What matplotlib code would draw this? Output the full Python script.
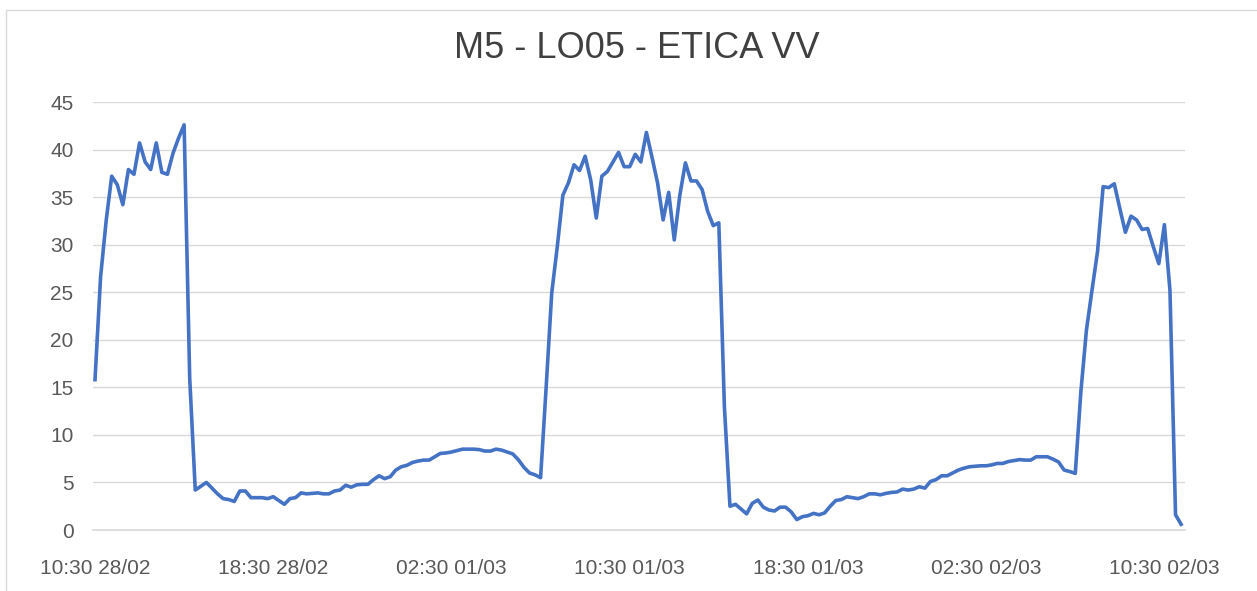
"""
M5 - LO05 - ETICA VV  : line chart, 15 min samples over two days.
"""

import matplotlib
matplotlib.use("Agg")
import matplotlib.pyplot as plt
from matplotlib.patches import Rectangle
import pandas as pd

TITLE = "M5 - LO05 - ETICA VV"
START = "2023-02-28 10:30"
STEP = "15min"

# readings, one every 15 minutes
day1_high = [15.8, 26.6, 32.5, 37.2, 36.3, 34.2, 37.9, 37.4, 40.7, 38.7,
             37.9, 40.7, 37.6, 37.4, 39.6, 41.2, 42.6, 16.0, 4.2]
night1 = [4.6, 5.0, 4.4, 3.8, 3.3, 3.2, 3.0, 4.1, 4.1, 3.4,
          3.4, 3.4, 3.3, 3.5, 3.1, 2.7, 3.3, 3.4, 3.9, 3.8,
          3.85, 3.9, 3.8, 3.8, 4.1, 4.2, 4.7, 4.5, 4.75, 4.8,
          4.8, 5.3, 5.7, 5.4, 5.6, 6.3, 6.65, 6.8, 7.1, 7.25,
          7.35, 7.35, 7.7, 8.05, 8.1, 8.2, 8.35, 8.5, 8.5, 8.5,
          8.45, 8.3, 8.3, 8.5, 8.4, 8.2, 8.0, 7.4, 6.6, 6.0,
          5.8, 5.5]
day2_high = [15.0, 24.9, 29.8, 35.2, 36.5, 38.4, 37.8, 39.3, 36.8, 32.8,
             37.2, 37.7, 38.7, 39.7, 38.2, 38.2, 39.5, 38.7, 41.8, 39.2,
             36.5, 32.6, 35.5, 30.5, 35.2, 38.6, 36.7, 36.7, 35.8, 33.5,
             32.0, 32.3]
night2 = [13.0, 2.5, 2.7, 2.2, 1.7, 2.8, 3.15, 2.4, 2.1, 2.0,
          2.4, 2.4, 1.9, 1.1, 1.4, 1.5, 1.75, 1.6, 1.8, 2.5,
          3.1, 3.2, 3.5, 3.4, 3.3, 3.5, 3.8, 3.8, 3.7, 3.85,
          3.95, 4.0, 4.3, 4.2, 4.3, 4.55, 4.4, 5.1, 5.3, 5.7,
          5.7, 6.0, 6.3, 6.5, 6.65, 6.7, 6.75, 6.75, 6.85, 7.0,
          7.0, 7.2, 7.3, 7.4, 7.35, 7.35, 7.7, 7.7, 7.7, 7.45,
          7.15, 6.3, 6.15, 5.95]
day3_high = [14.5, 21.0, 25.2, 29.3, 36.1, 36.0, 36.4, 33.8, 31.3, 33.0,
             32.6, 31.6, 31.7, 29.8, 28.0, 32.1, 25.2, 1.6, 0.6]

values = day1_high + night1 + day2_high + night2 + day3_high
times = pd.date_range(START, periods=len(values), freq=STEP)

y_ticks = [0, 5, 10, 15, 20, 25, 30, 35, 40, 45]

BLUE = "#4472C4"
GRID = "#d9d9d9"
TXT = "#595959"
FONT = ["Liberation Sans", "DejaVu Sans"]

fig = plt.figure(figsize=(12.57, 5.91), dpi=100)
fig.patch.set_facecolor("white")
ax = fig.add_axes([93 / 1257, 1 - 530 / 591, (1185 - 93) / 1257, (530 - 102) / 591])

ax.plot(times, values, color=BLUE, lw=2.6, solid_joinstyle="round", zorder=3)

# axes look
ax.set_ylim(0, 45)
ax.set_yticks(y_ticks)
step = times[1] - times[0]
ax.set_xlim(times[0] - step * 0.36, times[-1] + step * 0.7)
ticks = list(pd.date_range(START, times[-1], freq="8h"))
ax.set_xticks(ticks)
ax.set_xticklabels([t.strftime("%H:%M %d/%m") for t in ticks])

ax.grid(axis="y", color=GRID, lw=1.0, zorder=0)
ax.set_axisbelow(True)
for s in ["top", "right", "left"]:
    ax.spines[s].set_visible(False)
ax.spines["bottom"].set_color(GRID)
ax.spines["bottom"].set_linewidth(1.2)
ax.tick_params(axis="both", length=0, colors=TXT, labelsize=15)
ax.tick_params(axis="x", pad=21)
ax.tick_params(axis="y", pad=14)
for lab in ax.get_xticklabels() + ax.get_yticklabels():
    lab.set_family(FONT)

fig.text(637 / 1257, 1 - 49 / 591, TITLE, ha="center", va="center",
         fontsize=26, color="#404040", family=FONT)

# chart area frame
fig.patches.append(Rectangle((6 / 1257, -0.05), 1.1, 1 - 10 / 591 + 0.05,
                             transform=fig.transFigure, fill=False,
                             edgecolor=GRID, lw=1.0))

fig.savefig("out.png", dpi=100, facecolor="white")
plt.close()
